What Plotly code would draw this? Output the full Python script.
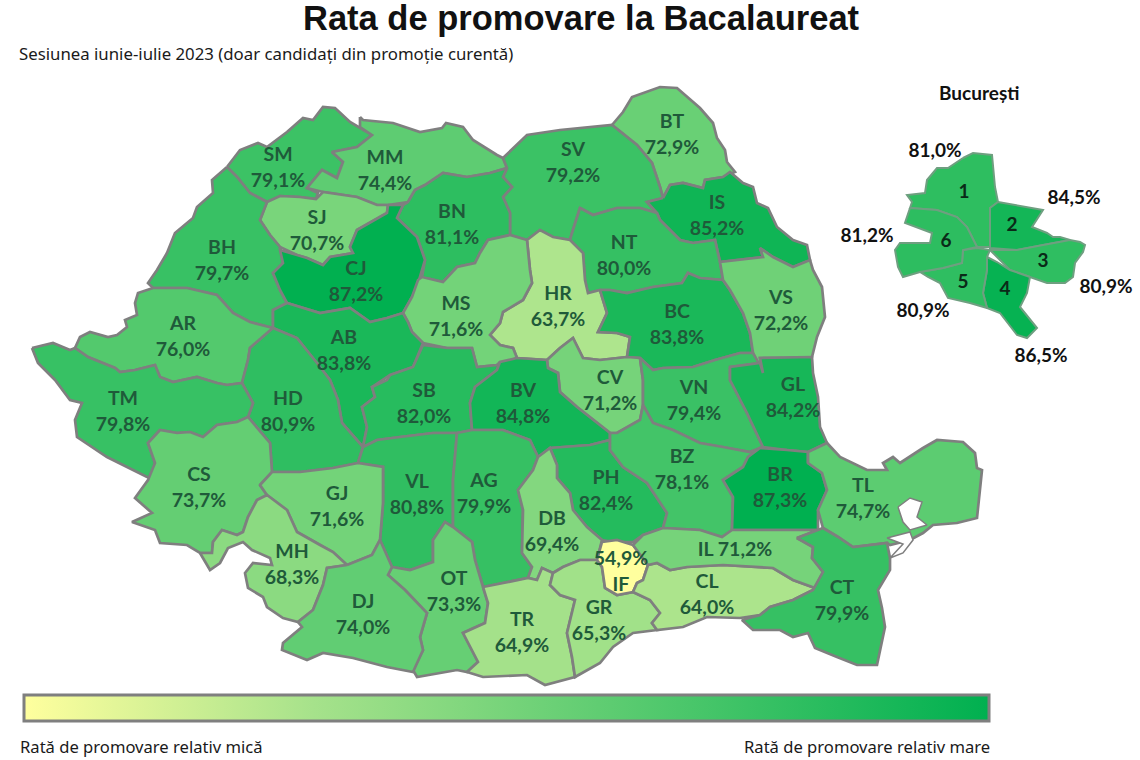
import plotly.graph_objects as go
from plotly.colors import sample_colorscale

TITLE = "Rata de promovare la Bacalaureat"
SUBTITLE = "Sesiunea iunie-iulie 2023 (doar candidați din promoție curentă)"
LEGEND_LOW = "Rată de promovare relativ mică"
LEGEND_HIGH = "Rată de promovare relativ mare"
INSET_TITLE = "București"

COUNTIES = ["SM","MM","BT","SV","SJ","BN","BH","CJ","IS","NT","HR","MS","AR","AB","BC","VS","CV","VN","GL",
            "HD","TM","SB","BV","VL","AG","PH","BZ","BR","TL","CS","GJ","MH","DB","OT","DJ","TR","GR","IF","CL","IL","CT"]
RATES = [79.1,74.4,72.9,79.2,70.7,81.1,79.7,87.2,85.2,80.0,63.7,71.6,76.0,83.8,83.8,72.2,71.2,79.4,84.2,
         80.9,79.8,82.0,84.8,80.8,79.9,82.4,78.1,87.3,74.7,73.7,71.6,68.3,69.4,73.3,74.0,64.9,65.3,54.9,64.0,71.2,79.9]
LABEL_X = [278,385,672,573,317,452,222,356,717,624,558,456,183,344,677,781,610,694,793,
           288,123,424,523,417,484,606,682,780,863,199,337,292,552,454,363,522,599,621,707,735,842]
LABEL_Y = [169,172,136,164,232,226,262,283,217,257,308,318,338,352,326,312,392,402,399,
           413,413,405,405,496,495,492,471,489,500,489,508,566,533,593,616,634,622,573,596,551,602]

SECTORS = ["1","2","3","4","5","6"]
SECTOR_RATES = [81.0,84.5,80.9,86.5,80.9,81.2]
SECTOR_X = [964,1012,1043,1005,963,946]
SECTOR_Y = [193,226,262,290,283,242]
SECTOR_RATE_X = [935,1074,1106,1041,923,867]
SECTOR_RATE_Y = [152,199,288,357,312,237]

OUTLINES = {
"SM":[(227,167),(240,150),(258,143),(267,147),(287,132),(303,118),(313,120),(323,107),(335,108),(350,122),(372,135),(357,147),(332,152),(343,162),(337,178),(322,170),(307,188),(318,193),(316,199),(300,197),(280,196),(267,202),(250,193),(237,177)],
"MM":[(360,117),(363,120),(393,123),(420,132),(442,128),(446,123),(463,127),(473,140),(497,155),(503,158),(507,168),(490,173),(467,177),(443,173),(425,185),(415,190),(408,202),(388,205),(377,205),(357,197),(323,192),(307,188),(322,170),(337,178),(343,162),(332,152),(357,147),(372,135),(360,127)],
"SJ":[(267,202),(280,196),(300,197),(316,199),(323,192),(357,197),(377,205),(388,205),(387,213),(357,230),(350,247),(353,253),(330,257),(323,265),(307,258),(297,255),(280,247),(270,235),(260,220)],
"BH":[(227,167),(237,177),(250,193),(267,202),(260,220),(270,235),(280,247),(283,263),(273,273),(280,290),(287,303),(273,310),(273,328),(250,322),(233,313),(217,295),(187,288),(153,288),(148,283),(157,270),(167,253),(175,233),(193,218),(197,207),(213,193),(212,180)],
"CJ":[(388,205),(403,205),(397,218),(417,237),(425,260),(417,287),(412,297),(403,313),(387,318),(370,322),(350,308),(320,313),(300,307),(287,303),(280,290),(273,273),(283,263),(280,250),(297,255),(307,258),(323,265),(330,257),(353,253),(350,247),(357,230),(387,213)],
"BN":[(415,190),(425,185),(443,173),(467,177),(490,173),(507,168),(503,177),(512,187),(503,197),(510,213),(510,235),(488,240),(480,253),(475,263),(457,267),(443,282),(422,277),(425,260),(417,237),(397,218),(403,205),(408,202)],
"MS":[(422,277),(443,282),(457,267),(475,263),(480,253),(488,240),(510,235),(527,240),(530,270),(532,283),(523,300),(503,312),(500,323),(490,335),(500,345),(513,348),(517,358),(497,365),(477,367),(472,348),(447,348),(423,343),(412,332),(408,322),(403,313),(412,297),(418,280)],
"HR":[(527,240),(540,230),(553,237),(570,240),(583,253),(585,280),(588,293),(600,290),(607,313),(598,332),(617,333),(630,337),(627,357),(600,360),(583,358),(573,338),(560,348),(547,360),(517,358),(513,348),(500,345),(490,335),(500,323),(503,312),(523,300),(532,283),(530,270)],
"SV":[(503,158),(527,135),(560,130),(612,125),(637,145),(652,163),(660,187),(663,198),(647,202),(657,213),(640,208),(617,208),(593,215),(580,208),(572,233),(570,240),(553,237),(540,230),(527,240),(510,235),(510,213),(503,197),(512,187),(503,177),(507,168)],
"BT":[(612,125),(623,112),(632,97),(660,87),(677,88),(700,108),(713,123),(717,138),(725,150),(727,162),(735,172),(723,177),(705,180),(703,188),(683,183),(670,185),(663,198),(660,187),(652,163),(637,145)],
"IS":[(663,198),(670,185),(683,183),(703,188),(705,180),(723,177),(730,172),(743,183),(753,187),(757,203),(768,208),(777,227),(793,240),(807,245),(810,260),(793,267),(773,257),(760,248),(763,257),(720,262),(715,240),(693,243),(680,240),(660,220),(657,213),(647,202)],
"NT":[(580,208),(593,215),(617,208),(640,208),(657,213),(660,220),(680,240),(693,243),(715,240),(720,262),(723,280),(700,278),(688,273),(682,283),(653,287),(627,293),(610,290),(600,290),(588,293),(585,280),(583,253),(570,240),(572,233)],
"BC":[(600,290),(610,290),(627,293),(653,287),(682,283),(688,273),(700,278),(723,280),(730,290),(743,313),(750,333),(753,353),(740,353),(715,360),(693,367),(663,368),(653,370),(640,358),(627,357),(630,337),(617,333),(598,332),(607,313)],
"VS":[(723,280),(720,262),(763,257),(760,248),(773,257),(793,267),(810,260),(813,270),(822,287),(825,317),(817,337),(812,357),(787,358),(760,358),(763,373),(757,360),(753,353),(750,333),(743,313),(730,290)],
"VN":[(640,358),(653,370),(663,368),(693,367),(715,360),(740,353),(753,353),(757,360),(763,373),(760,363),(730,367),(730,380),(747,413),(763,447),(750,452),(723,447),(700,443),(673,430),(653,423),(643,405),(643,380)],
"GL":[(730,367),(760,363),(763,373),(760,358),(812,357),(813,373),(818,397),(820,427),(827,443),(808,452),(787,450),(763,447),(747,413),(730,380)],
"CV":[(560,348),(573,338),(583,358),(600,360),(627,357),(640,358),(643,380),(643,405),(640,420),(617,433),(610,433),(577,407),(560,392),(558,373),(548,368),(547,360)],
"BZ":[(610,440),(610,433),(617,433),(640,420),(643,405),(653,423),(673,430),(700,443),(723,447),(750,452),(763,447),(748,457),(743,467),(723,480),(733,497),(732,530),(722,537),(700,530),(663,528),(667,513),(647,483),(627,470),(623,467),(610,450)],
"PH":[(550,448),(590,445),(610,440),(610,450),(623,467),(647,483),(667,513),(663,528),(643,535),(633,542),(613,542),(602,540),(587,527),(573,510),(570,493),(557,478),(557,465)],
"BV":[(472,430),(470,403),(475,387),(497,370),(500,362),(517,358),(547,360),(548,368),(558,373),(560,392),(577,407),(610,433),(610,440),(590,445),(550,448),(538,457),(530,440),(503,430)],
"SB":[(423,345),(447,348),(472,348),(477,367),(497,365),(500,362),(497,370),(475,387),(470,403),(472,430),(457,433),(433,433),(400,437),(377,440),(363,447),(367,427),(362,407),(375,397),(372,387),(387,380),(390,375),(413,367)],
"AB":[(273,328),(273,310),(287,303),(300,307),(320,313),(350,308),(370,322),(387,318),(403,313),(408,322),(412,332),(423,343),(413,367),(390,375),(372,387),(375,397),(362,407),(367,427),(363,447),(342,423),(338,400),(330,380),(317,363),(297,338)],
"HD":[(273,328),(297,338),(317,363),(330,380),(338,400),(342,423),(363,447),(358,463),(333,468),(300,472),(272,472),(270,443),(248,417),(253,403),(242,383),(248,360),(250,348)],
"AR":[(153,288),(138,293),(135,303),(137,315),(125,320),(127,327),(117,335),(108,337),(90,332),(80,337),(75,348),(88,357),(115,368),(120,372),(135,370),(155,365),(160,377),(173,382),(197,377),(217,383),(227,385),(242,383),(248,360),(250,348),(273,328),(250,322),(233,313),(217,295),(187,288)],
"TM":[(32,348),(53,343),(70,350),(75,348),(88,357),(115,368),(120,372),(135,370),(155,365),(160,377),(173,382),(197,377),(217,383),(227,385),(242,383),(253,403),(248,417),(237,422),(217,425),(203,437),(190,432),(177,433),(160,430),(148,443),(155,463),(152,478),(147,477),(120,463),(107,457),(77,437),(75,420),(82,403),(70,400),(55,380),(38,363)],
"CS":[(160,430),(177,433),(190,432),(203,437),(217,425),(237,422),(248,417),(270,443),(272,472),(260,485),(267,495),(257,500),(248,517),(243,532),(237,535),(222,530),(213,542),(212,553),(200,553),(187,545),(160,543),(155,530),(132,522),(152,513),(135,498),(148,480),(155,463),(148,443)],
"MH":[(200,553),(210,570),(220,563),(228,548),(243,542),(252,550),(270,558),(272,565),(253,563),(245,573),(248,588),(263,597),(267,607),(283,618),(298,622),(313,610),(323,585),(327,568),(347,565),(333,552),(320,545),(297,532),(287,510),(267,495),(257,500),(248,517),(243,532),(237,535),(222,530),(213,542),(212,553)],
"GJ":[(260,485),(272,472),(300,472),(333,468),(358,463),(383,467),(383,503),(380,540),(372,555),(347,565),(333,552),(320,545),(297,532),(287,510),(267,495)],
"VL":[(363,447),(377,440),(400,437),(433,433),(457,433),(453,480),(453,527),(445,522),(433,540),(433,562),(410,570),(392,567),(380,540),(383,503),(383,467),(358,463)],
"AG":[(457,433),(472,430),(503,430),(530,440),(538,457),(533,470),(518,490),(523,510),(522,553),(532,567),(528,578),(483,587),(475,560),(472,542),(453,527),(453,480)],
"DB":[(538,457),(550,448),(557,465),(557,478),(570,493),(573,510),(587,527),(602,540),(597,560),(580,560),(563,567),(553,573),(542,568),(537,580),(528,578),(532,567),(522,553),(523,510),(518,490),(533,470)],
"OT":[(392,567),(410,570),(433,562),(433,540),(445,522),(453,527),(472,542),(475,560),(483,587),(488,603),(485,623),(463,633),(478,662),(467,672),(457,670),(417,677),(413,670),(423,650),(420,637),(427,613),(405,590),(388,575)],
"DJ":[(347,565),(372,555),(380,540),(392,567),(388,575),(405,590),(427,613),(420,637),(423,650),(413,672),(387,667),(353,658),(323,653),(307,660),(282,650),(283,643),(302,627),(298,622),(313,610),(323,585),(327,568)],
"TR":[(483,587),(528,578),(537,580),(542,568),(553,573),(550,585),(560,595),(575,600),(567,633),(572,657),(575,677),(545,685),(527,675),(483,677),(467,672),(478,662),(463,633),(485,623),(488,603)],
"GR":[(553,573),(563,567),(580,560),(597,560),(602,567),(605,588),(617,595),(633,592),(650,600),(660,613),(652,623),(657,630),(633,633),(613,647),(600,663),(575,677),(572,657),(567,633),(575,600),(560,595),(550,585)],
"IF":[(602,542),(617,540),(633,545),(648,565),(643,580),(637,583),(633,592),(617,595),(605,588),(602,567),(597,560)],
"CL":[(648,565),(657,563),(670,570),(687,567),(723,565),(773,568),(793,580),(815,588),(813,590),(793,600),(770,607),(760,615),(740,618),(707,617),(683,627),(657,630),(652,623),(660,613),(650,600),(633,592),(637,583),(643,580)],
"IL":[(633,545),(643,535),(663,528),(700,530),(722,537),(732,530),(818,530),(797,538),(813,547),(812,558),(823,572),(815,588),(793,580),(773,568),(723,565),(687,567),(670,570),(657,563),(648,565)],
"BR":[(748,457),(760,448),(787,450),(808,452),(808,463),(822,473),(827,490),(818,510),(818,530),(732,530),(733,497),(723,480),(743,467)],
"TL":[(808,463),(808,452),(827,443),(840,457),(867,470),(887,470),(883,463),(893,457),(900,463),(923,448),(937,440),(963,442),(975,453),(977,468),(982,470),(977,518),(957,523),(933,525),(923,533),(910,540),(890,545),(887,543),(853,547),(838,537),(823,528),(818,510),(827,490),(822,473)],
"CT":[(797,538),(823,528),(838,537),(853,547),(887,543),(890,558),(890,570),(878,590),(882,608),(885,627),(877,665),(857,665),(837,657),(815,648),(808,633),(793,637),(780,630),(753,630),(742,620),(760,615),(770,607),(793,600),(813,590),(823,572),(812,558),(813,547)],
}
LAGOONS = [
 [(898,507),(910,498),(922,502),(917,517),(927,525),(910,530),(903,522)],
 [(887,538),(910,532),(913,540),(903,553),(890,558),(903,544)],
]
SECTOR_OUTLINES = {
"1":[(963,158),(973,153),(992,155),(995,187),(998,202),(990,208),(990,247),(977,247),(967,227),(957,217),(937,210),(910,208),(912,202),(907,195),(925,193),(927,180),(937,168),(948,168)],
"2":[(998,202),(1043,210),(1032,227),(1047,233),(1053,237),(1060,237),(1070,240),(1043,245),(1017,250),(990,248),(990,208)],
"3":[(990,250),(1017,250),(1043,245),(1070,240),(1080,242),(1085,245),(1083,252),(1075,263),(1073,277),(1065,283),(1047,283),(1030,277),(1010,270),(1000,260)],
"4":[(987,257),(997,262),(1010,270),(1030,277),(1027,293),(1020,307),(1037,328),(1027,338),(1017,335),(1000,313),(987,308),(983,293),(987,270)],
"5":[(963,250),(977,248),(990,250),(987,257),(987,270),(983,293),(987,308),(970,303),(948,298),(940,283),(928,277),(920,272),(943,268),(962,263)],
"6":[(910,208),(937,210),(957,217),(967,227),(977,247),(963,250),(962,263),(943,268),(920,272),(903,277),(898,267),(895,250),(900,243),(930,243),(932,233),(905,223)],
}

SCALE = [[0, "#FFFF9E"], [0.3, "#A6E28B"], [1, "#00B050"]]
CMIN, CMAX = 54.9, 87.3
BORDER = "#7F7F7F"
LABEL_FONT = "Lato"
NOTE_FONT = "Noto Sans"


def fmt(v):
    return f"{v:.1f}%".replace(".", ",")


def region(name, pts, value):
    color = sample_colorscale(SCALE, (value - CMIN) / (CMAX - CMIN))[0]
    closed = list(pts) + [pts[0]]
    return go.Scatter(x=[p[0] for p in closed], y=[p[1] for p in closed], mode="lines", fill="toself",
                      fillcolor=color, line=dict(color=BORDER, width=2.7), name=name,
                      hoverinfo="text", text=f"{name}: {fmt(value)}", showlegend=False)


fig = go.Figure()
for name, value in zip(COUNTIES, RATES):
    fig.add_trace(region(name, OUTLINES[name], value))
for lagoon in LAGOONS:
    closed = lagoon + [lagoon[0]]
    fig.add_trace(go.Scatter(x=[p[0] for p in closed], y=[p[1] for p in closed], mode="lines", fill="toself",
                             fillcolor="white", line=dict(color=BORDER, width=1.5), hoverinfo="skip", showlegend=False))
for name, value in zip(SECTORS, SECTOR_RATES):
    tr = region("Sector " + name, SECTOR_OUTLINES[name], value)
    tr.line.color = "#6F9F80"
    tr.line.width = 2
    fig.add_trace(tr)

# county labels; the invisible markers carry the shared colour axis and its colour bar
texts = []
for c, v in zip(COUNTIES, RATES):
    texts.append(f"{c} {fmt(v)}" if c == "IL" else f"{c}<br>{fmt(v)}")
texts[COUNTIES.index("IF")] = f"{fmt(RATES[COUNTIES.index('IF')])}<br>IF"
fig.add_trace(go.Scatter(x=LABEL_X, y=LABEL_Y, mode="markers+text", text=texts, textposition="middle center",
                         textfont=dict(family=LABEL_FONT, size=19.5, color="#1F5A3A", weight=700),
                         marker=dict(size=1, opacity=0, color=RATES, coloraxis="coloraxis"),
                         hoverinfo="skip", showlegend=False))
fig.add_trace(go.Scatter(x=SECTOR_X, y=SECTOR_Y, mode="text", text=SECTORS, textposition="middle center",
                         textfont=dict(family=LABEL_FONT, size=19, color="#0A2A18", weight=700),
                         hoverinfo="skip", showlegend=False))
fig.add_trace(go.Scatter(x=SECTOR_RATE_X, y=SECTOR_RATE_Y, mode="text", text=[fmt(v) for v in SECTOR_RATES],
                         textposition="middle center",
                         textfont=dict(family=LABEL_FONT, size=19, color="#111111", weight=700),
                         hoverinfo="skip", showlegend=False))


def note(x, y, text, size, family=NOTE_FONT, anchor="left", color="#1A1A1A", weight=400):
    fig.add_annotation(x=x, y=y, text=text, showarrow=False, xanchor=anchor, yanchor="middle",
                       xshift=0, font=dict(family=family, size=size, color=color, weight=weight))


note(581, 18, TITLE, 34.5, "Liberation Sans", "center", "#111111", 700)
note(17, 53, SUBTITLE, 16.8)
note(979, 92, INSET_TITLE, 19, LABEL_FONT, "center", "#111111", 700)
note(18, 746, LEGEND_LOW, 16.6)
note(992, 746, LEGEND_HIGH, 16.6, anchor="right")

fig.update_layout(
    width=1140, height=760, margin=dict(l=0, r=0, t=0, b=0),
    paper_bgcolor="white", plot_bgcolor="white", showlegend=False,
    xaxis=dict(range=[0, 1140], visible=False, fixedrange=True),
    yaxis=dict(range=[760, 0], visible=False, fixedrange=True),
    coloraxis=dict(colorscale=SCALE, cmin=CMIN, cmax=CMAX,
                   colorbar=dict(orientation="h", x=24 / 1140, xanchor="left", xpad=0, ypad=0,
                                 y=1 - 695 / 760, yanchor="top", lenmode="pixels", len=965,
                                 thickness=26, thicknessmode="pixels", showticklabels=False, ticks="",
                                 outlinecolor=BORDER, outlinewidth=3, borderwidth=0)),
)
fig.write_html("out.html", config={"displayModeBar": False}, post_script="document.body.style.margin='0';")
